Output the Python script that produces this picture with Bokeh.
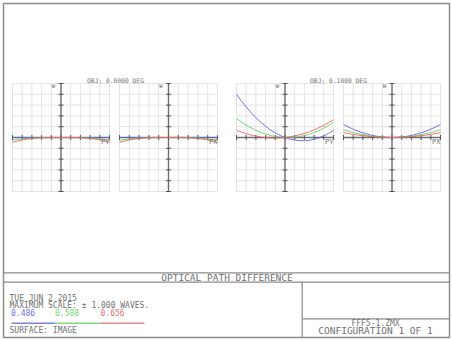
from math import pi
from bokeh.plotting import figure
from bokeh.models import Range1d, Label
from bokeh.embed import file_html
from bokeh.resources import INLINE
from bokeh.core.properties import value

# ---------------- data ----------------
pupil = [-1.0, -0.9, -0.8, -0.7, -0.6, -0.5, -0.4, -0.3, -0.2, -0.1, 0.0,
         0.1, 0.2, 0.3, 0.4, 0.5, 0.6, 0.7, 0.8, 0.9, 1.0]
grid_ticks = [-1.0, -0.8, -0.6, -0.4, -0.2, 0.0, 0.2, 0.4, 0.6, 0.8, 1.0]

fields = ["OBJ: 0.0000 DEG", "OBJ: 0.1000 DEG"]
fan_labels = ["PY", "PX", "PY", "PX"]
wavelengths = ["0.486", "0.588", "0.656"]

# field 0.0000 deg, tangential (PY) and sagittal (PX) fans, waves
f0_py_blue = [0.0, 0.0, 0.0, 0.0, 0.0, 0.0, 0.0, 0.0, 0.0, 0.0, 0.0,
              0.0, 0.0, 0.0, 0.0, 0.0, 0.0, 0.0, 0.0, 0.0, 0.0]
f0_py_green = [-0.050, -0.037, -0.026, -0.017, -0.010, -0.006, -0.003, -0.001, 0.0, 0.0, 0.0,
               0.0, 0.0, -0.001, -0.003, -0.006, -0.010, -0.017, -0.026, -0.037, -0.050]
f0_py_red = [-0.090, -0.066, -0.046, -0.031, -0.018, -0.010, -0.005, -0.002, -0.001, 0.0, 0.0,
             0.0, -0.001, -0.002, -0.005, -0.010, -0.018, -0.031, -0.046, -0.066, -0.090]
f0_px_blue = [0.0, 0.0, 0.0, 0.0, 0.0, 0.0, 0.0, 0.0, 0.0, 0.0, 0.0,
              0.0, 0.0, 0.0, 0.0, 0.0, 0.0, 0.0, 0.0, 0.0, 0.0]
f0_px_green = [-0.050, -0.037, -0.026, -0.017, -0.010, -0.006, -0.003, -0.001, 0.0, 0.0, 0.0,
               0.0, 0.0, -0.001, -0.003, -0.006, -0.010, -0.017, -0.026, -0.037, -0.050]
f0_px_red = [-0.090, -0.066, -0.046, -0.031, -0.018, -0.010, -0.005, -0.002, -0.001, 0.0, 0.0,
             0.0, -0.001, -0.002, -0.005, -0.010, -0.018, -0.031, -0.046, -0.066, -0.090]

# field 0.1000 deg
f1_py_blue = [0.800, 0.677, 0.565, 0.462, 0.367, 0.283, 0.208, 0.142, 0.086, 0.038, 0.0,
              -0.029, -0.048, -0.058, -0.060, -0.051, -0.033, -0.006, 0.031, 0.076, 0.130]
f1_py_green = [0.350, 0.287, 0.230, 0.179, 0.134, 0.096, 0.064, 0.039, 0.020, 0.007, 0.0,
               0.0, 0.006, 0.018, 0.036, 0.061, 0.092, 0.130, 0.174, 0.224, 0.280]
f1_py_red = [0.135, 0.100, 0.071, 0.046, 0.025, 0.009, -0.002, -0.008, -0.010, -0.007, 0.0,
             0.012, 0.029, 0.050, 0.076, 0.107, 0.142, 0.182, 0.227, 0.276, 0.330]
f1_px_blue = [0.240, 0.194, 0.154, 0.118, 0.086, 0.060, 0.038, 0.022, 0.010, 0.002, 0.0,
              0.002, 0.010, 0.022, 0.038, 0.060, 0.086, 0.118, 0.154, 0.194, 0.240]
f1_px_green = [0.145, 0.117, 0.093, 0.071, 0.052, 0.036, 0.023, 0.013, 0.006, 0.001, 0.0,
               0.001, 0.006, 0.013, 0.023, 0.036, 0.052, 0.071, 0.093, 0.117, 0.145]
f1_px_red = [0.090, 0.073, 0.058, 0.044, 0.032, 0.023, 0.014, 0.008, 0.004, 0.001, 0.0,
             0.001, 0.004, 0.008, 0.014, 0.023, 0.032, 0.044, 0.058, 0.073, 0.090]

panel_series = [
    (f0_py_blue, f0_py_green, f0_py_red),
    (f0_px_blue, f0_px_green, f0_px_red),
    (f1_py_blue, f1_py_green, f1_py_red),
    (f1_px_blue, f1_px_green, f1_px_red),
]

# ---------------- style / layout ----------------
W, H = 452, 340
FONT = "DejaVu Sans Mono"
TXT = "#707070"
FRAME = "#8c8c8c"
GRIDC = "#e3e3e3"
AXC = "#6f6f6f"
COLS = ["#5a5aee", "#5ccc5c", "#ee5a5a"]
LABEL_COLS = ["#7070e6", "#74d474", "#e87070"]

def Y(yd):
    return H - yd

p = figure(width=W, height=H, x_range=Range1d(0, W), y_range=Range1d(0, H),
           output_backend="svg", toolbar_location=None,
           x_axis_type=None, y_axis_type=None, min_border=0,
           background_fill_color="white", border_fill_color="white",
           outline_line_color=None)
p.grid.visible = False

panel_x = [(12, 109), (119, 217), (236, 333), (343, 440)]
panel_top, panel_bot = 83, 191

for i, (x0, x1) in enumerate(panel_x):
    sp = p.subplot(x_source=Range1d(-1, 1), y_source=Range1d(-1, 1),
                   x_target=Range1d(x0, x1), y_target=Range1d(Y(panel_bot), Y(panel_top)))
    sp.multi_line(xs=[[g, g] for g in grid_ticks], ys=[[-1, 1] for g in grid_ticks],
                  line_color=GRIDC, line_width=1)
    sp.multi_line(xs=[[-1, 1] for g in grid_ticks], ys=[[g, g] for g in grid_ticks],
                  line_color=GRIDC, line_width=1)
    sp.line([-1, 1], [0, 0], line_color=AXC, line_width=1.4)
    sp.line([0, 0], [-1, 1], line_color=AXC, line_width=1.4)
    sp.scatter(grid_ticks, [0] * len(grid_ticks), marker="dash", angle=pi / 2,
               size=5, line_color="#555555", line_width=1)
    sp.scatter([0] * len(grid_ticks), grid_ticks, marker="dash",
               size=5, line_color="#555555", line_width=1)
    blue, green, red = panel_series[i]
    for ser, c in zip((blue, green, red), COLS):
        sp.line(pupil, ser, line_color=c, line_width=1, line_alpha=0.85)
    sp.text(x=[-0.12], y=[0.96], text=["W"], text_font=value(FONT),
            text_font_size="5.5px", text_color=TXT, text_align="right",
            text_baseline="middle")
    sp.text(x=[1.0], y=[-0.085], text=[fan_labels[i]], text_font=value(FONT),
            text_font_size="7px", text_color=TXT, text_align="right",
            text_baseline="middle")

def lab(x, yd, text, size="8px", color=TXT, align="left"):
    p.add_layout(Label(x=x, y=Y(yd), text=text, text_font=FONT, text_font_size=size,
                       text_color=color, text_align=align, text_baseline="middle"))

# field titles
for t, cx in zip(fields, [115, 338]):
    lab(cx, 80.0, t, size="6.3px", align="center")

# frame lines
p.quad(left=3, right=449, top=Y(3), bottom=Y(337), fill_color=None,
       line_color=FRAME, line_width=1.5)
p.segment(x0=[3, 3, 301.7, 301.7], y0=[Y(272.3), Y(281.7), Y(281.7), Y(318.3)],
          x1=[449, 449, 301.7, 449], y1=[Y(272.3), Y(281.7), Y(337), Y(318.3)],
          line_color=FRAME, line_width=1.2)

lab(226.5, 277.0, "OPTICAL PATH DIFFERENCE", size="9.5px", align="center")
lab(9, 298.3, "TUE JUN 2 2015")
lab(9, 305.0, "MAXIMUM SCALE: \u00b1 1.000 WAVES.")
for wl, x, c in zip(wavelengths, [10.5, 54.5, 100], LABEL_COLS):
    lab(x, 311.5, wl, color=c)
p.segment(x0=[11, 55, 100], y0=[Y(322.7)] * 3, x1=[55, 100, 144], y1=[Y(322.7)] * 3,
          line_color=["#8080e0", "#86d886", "#ee8888"], line_width=1.5)
lab(9, 330.2, "SURFACE: IMAGE")
lab(375, 323.4, "FFF5-1.ZMX", align="center")
lab(375, 330.3, "CONFIGURATION 1 OF 1", size="9.5px", align="center")

open("out.html", "w").write(file_html(p, INLINE))
